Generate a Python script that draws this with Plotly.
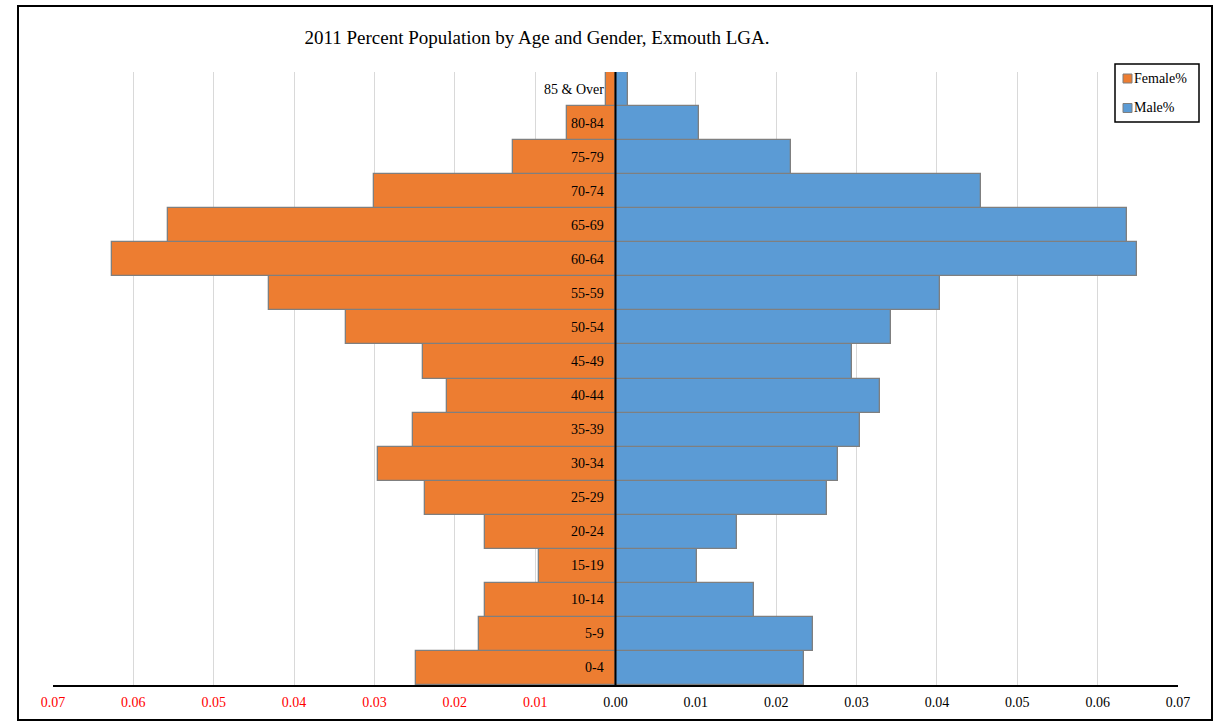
import plotly.graph_objects as go

categories = ["0-4", "5-9", "10-14", "15-19", "20-24", "25-29", "30-34", "35-39",
              "40-44", "45-49", "50-54", "55-59", "60-64", "65-69", "70-74",
              "75-79", "80-84", "85 & Over"]
female_pct = [0.0248, 0.0170, 0.0163, 0.0095, 0.0163, 0.0237, 0.0295, 0.0252,
              0.0210, 0.0239, 0.0336, 0.0431, 0.0626, 0.0557, 0.0300,
              0.0128, 0.0060, 0.0012]
male_pct = [0.0235, 0.0246, 0.0172, 0.0102, 0.0151, 0.0263, 0.0277, 0.0304,
            0.0329, 0.0294, 0.0343, 0.0404, 0.0649, 0.0637, 0.0455,
            0.0219, 0.0104, 0.0015]
tick_values = [-0.07, -0.06, -0.05, -0.04, -0.03, -0.02, -0.01, 0.0,
               0.01, 0.02, 0.03, 0.04, 0.05, 0.06, 0.07]
series_names = ["Female%", "Male%"]
series_colors = ["#ED7D31", "#5B9BD5"]

FONT = "Liberation Serif, Times New Roman, serif"

tick_text = []
for v in tick_values:
    s = f"{abs(v):.2f}"
    if v < 0:
        s = f'<span style="fill:#ff0000">{s}</span>'
    tick_text.append(s)

fig = go.Figure()
fig.add_trace(go.Bar(
    y=categories, x=[-v for v in female_pct], orientation="h", name=series_names[0],
    marker=dict(color=series_colors[0], line=dict(color="#7f7f7f", width=1.3)),
    showlegend=False,
))
fig.add_trace(go.Bar(
    y=categories, x=male_pct, orientation="h", name=series_names[1],
    marker=dict(color=series_colors[1], line=dict(color="#7f7f7f", width=1.3)),
    showlegend=False,
))

annotations = []
for c in categories:
    annotations.append(dict(
        x=0, y=c, xref="x", yref="y", text=c, showarrow=False,
        xanchor="right", yanchor="middle", xshift=-10,
        font=dict(family=FONT, size=14, color="#000000"),
    ))

L, R, T, B = 53, 38, 72, 40
W, H = 1216, 725
pw, ph = W - L - R, H - T - B

def px(xpix):
    return (xpix - L) / pw

def py(ypix):
    return (H - B - ypix) / ph

shapes = [
    dict(type="line", xref="x", yref="paper", x0=0, x1=0, y0=0, y1=1,
         line=dict(color="#000000", width=2), layer="above"),
    dict(type="rect", xref="paper", yref="paper",
         x0=px(18), x1=px(1212), y0=py(720), y1=py(6),
         line=dict(color="#000000", width=2), layer="below"),
    # legend box
    dict(type="rect", xref="paper", yref="paper",
         x0=px(1115), x1=px(1199), y0=py(122), y1=py(64),
         line=dict(color="#000000", width=1.5), fillcolor="#ffffff", layer="above"),
]

legend_rows = [78.5, 108]
for name, col, yc in zip(series_names, series_colors, legend_rows):
    shapes.append(dict(type="rect", xref="paper", yref="paper",
                       x0=px(1123), x1=px(1132), y0=py(yc + 4.5), y1=py(yc - 4.5),
                       line=dict(color="#7f7f7f", width=1), fillcolor=col,
                       layer="above"))
    annotations.append(dict(x=px(1132), y=py(yc), xref="paper", yref="paper",
                            text=name, showarrow=False, xanchor="left",
                            yanchor="middle",
                            font=dict(family=FONT, size=14, color="#000000")))

fig.update_layout(
    width=W, height=H,
    margin=dict(l=L, r=R, t=T, b=B, autoexpand=False),
    paper_bgcolor="#ffffff", plot_bgcolor="#ffffff",
    barmode="relative", bargap=0,
    showlegend=False,
    font=dict(family=FONT, color="#000000"),
    title=dict(text="2011 Percent Population by Age and Gender, Exmouth LGA.",
               x=px(537), xref="paper", xanchor="center",
               y=1 - 37 / H, yref="container", yanchor="middle",
               font=dict(family=FONT, size=19, color="#000000")),
    xaxis=dict(range=[-0.07, 0.07], tickvals=tick_values, ticktext=tick_text,
               showgrid=True, gridcolor="#d9d9d9", gridwidth=1,
               zeroline=False, showline=True, linecolor="#000000", linewidth=1.5,
               ticks="", ticklabelstandoff=3,
               tickfont=dict(family=FONT, size=14, color="#000000")),
    yaxis=dict(showticklabels=False, showgrid=False, zeroline=False,
               showline=False, ticks="", range=[-0.5, len(categories) - 0.5]),
    annotations=annotations,
    shapes=shapes,
)

fig.write_html("out.html", config={"displayModeBar": False},
               post_script="document.body.style.margin='0px';document.body.style.overflow='hidden';")
